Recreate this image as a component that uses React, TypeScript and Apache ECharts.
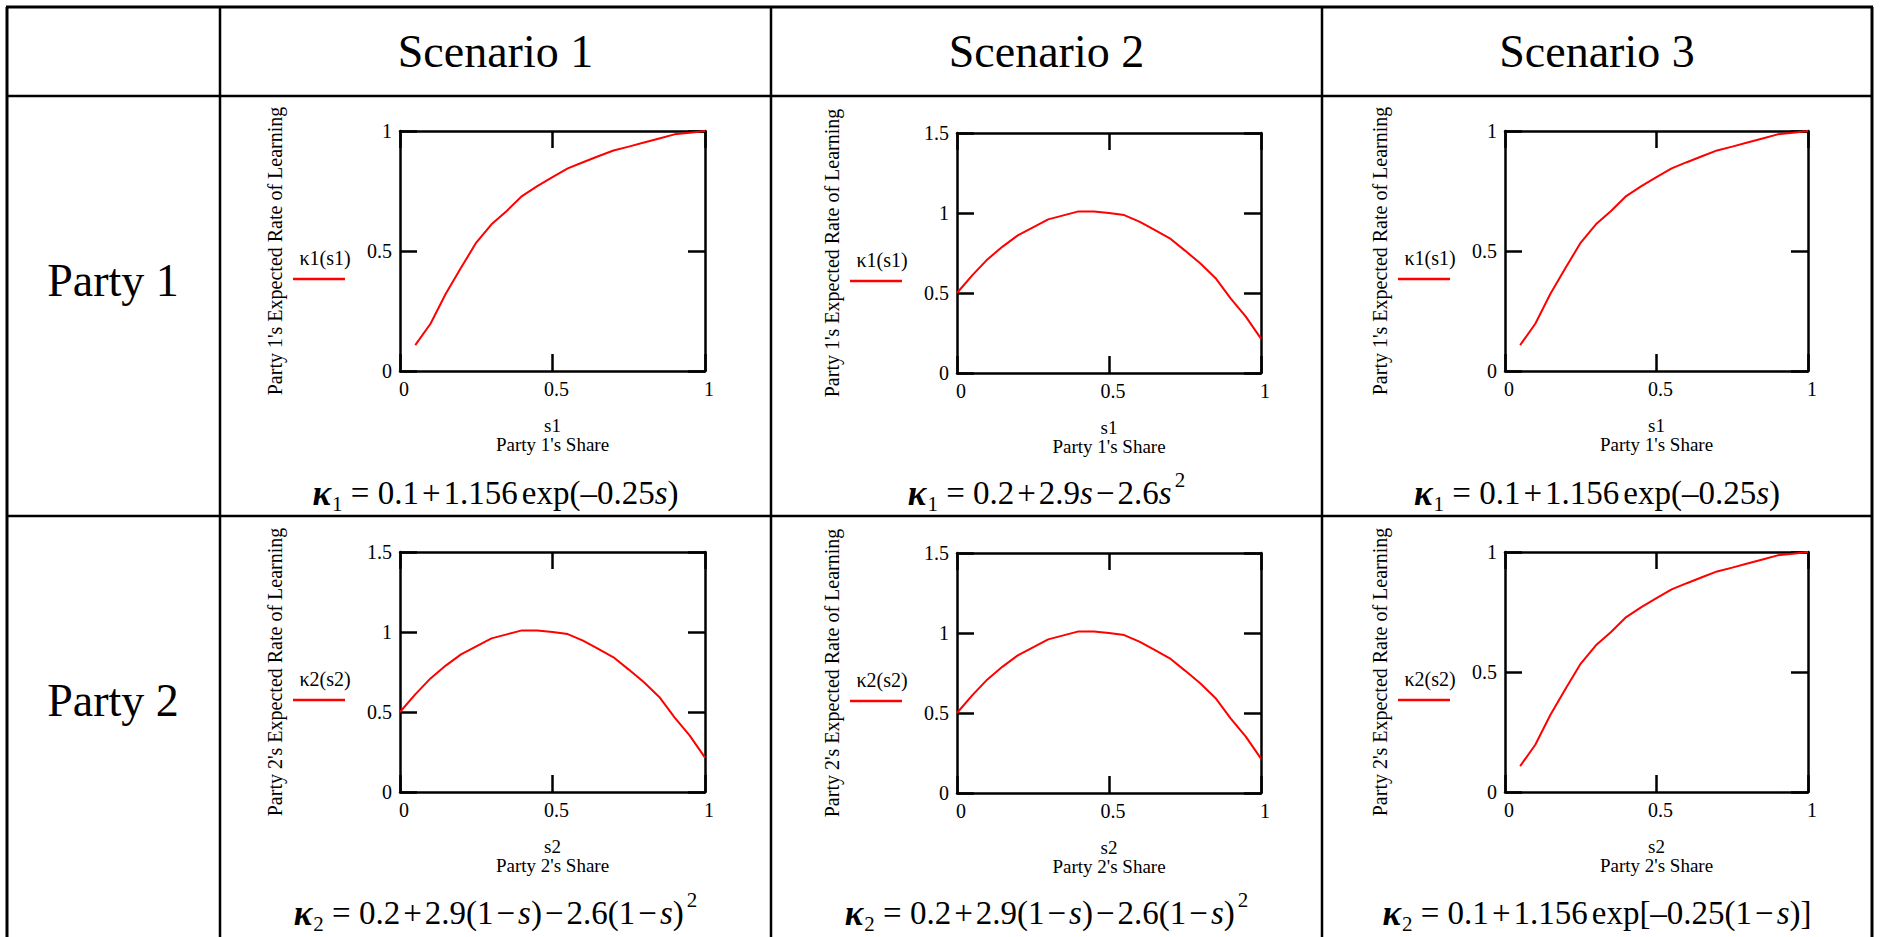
import React, { useEffect, useRef } from "react";
import * as echarts from "echarts";

// ---------- data ----------
const scenarios = ["Scenario 1", "Scenario 2", "Scenario 3"];
const parties = ["Party 1", "Party 2"];

// concave (exp-type) learning curve
const expShare = [0.05, 0.1, 0.15, 0.2, 0.25, 0.3, 0.35, 0.4, 0.45, 0.5, 0.55, 0.6, 0.65, 0.7, 0.75, 0.8, 0.85, 0.9, 0.95, 1.0];
const expRate = [0.108, 0.197, 0.322, 0.43, 0.535, 0.611, 0.667, 0.729, 0.77, 0.808, 0.844, 0.87, 0.895, 0.919, 0.935, 0.952, 0.969, 0.986, 0.993, 1.0];

// inverted-U (quadratic-type) learning curve
const quadShare = [0, 0.05, 0.1, 0.15, 0.2, 0.25, 0.3, 0.35, 0.4, 0.45, 0.5, 0.55, 0.6, 0.65, 0.7, 0.75, 0.8, 0.85, 0.9, 0.95, 1.0];
const quadRate = [0.5, 0.61, 0.71, 0.79, 0.86, 0.91, 0.96, 0.985, 1.01, 1.01, 1.0, 0.987, 0.946, 0.894, 0.842, 0.765, 0.686, 0.594, 0.467, 0.352, 0.215];

const xTicks = { min: 0, max: 1, interval: 0.5 };
const yMaxByPanel = [
  [1, 1.5, 1],
  [1.5, 1.5, 1],
];
const curveByPanel = [
  ["exp", "quad", "exp"],
  ["quad", "quad", "exp"],
];

const yTitles = ["Party 1's Expected Rate of Learning", "Party 2's Expected Rate of Learning"];
const xTitles = ["s1\nParty 1's Share", "s2\nParty 2's Share"];
const legendLabels = ["κ1(s1)", "κ2(s2)"];

// formulas as rich-text strings
const formulas = [
  [
    "{k|κ}{sub|1}{n| = 0.1}{op|+}{n|1.156}{g|exp(–0.25}{i|s}{n|)}",
    "{k|κ}{sub|1}{n| = 0.2}{op|+}{n|2.9}{i|s}{op|−}{n|2.6}{i|s}{sup|2}",
    "{k|κ}{sub|1}{n| = 0.1}{op|+}{n|1.156}{g|exp(–0.25}{i|s}{n|)}",
  ],
  [
    "{k|κ}{sub|2}{n| = 0.2}{op|+}{n|2.9(1}{op|−}{i|s}{n|)}{op|−}{n|2.6(1}{op|−}{i|s}{n|)}{sup|2}",
    "{k|κ}{sub|2}{n| = 0.2}{op|+}{n|2.9(1}{op|−}{i|s}{n|)}{op|−}{n|2.6(1}{op|−}{i|s}{n|)}{sup|2}",
    "{k|κ}{sub|2}{n| = 0.1}{op|+}{n|1.156}{g|exp[–0.25(1}{op|−}{i|s}{n|)]}",
  ],
];

// ---------- layout ----------
const FONT = "Liberation Serif";
const colLines = [220, 771, 1322];
const tableLeft = 7;
const tableRight = 1872;
const tableTop = 7;
const headerBottom = 96;
const rowTops = [96, 516];
const plotLefts = [400, 957, 1505];
const plotWidths = [305, 304, 303];
const plotTops = [
  [131, 133, 131],
  [552, 553, 552],
];
const plotHeight = 240;

function App() {
  const ref = useRef<HTMLDivElement>(null);

  useEffect(() => {
    document.body.style.margin = "0";
    const chart = echarts.init(ref.current!, undefined, { renderer: "svg" });

    const grids: any[] = [];
    const xAxes: any[] = [];
    const yAxes: any[] = [];
    const series: any[] = [];
    const graphics: any[] = [];

    const axisLine = { show: true, onZero: false, lineStyle: { color: "#000", width: 2.5 } };
    const axisTick = { show: true, inside: true, length: 17, lineStyle: { color: "#000", width: 2.5 } };
    const labelStyle = { color: "#000", fontFamily: FONT, fontSize: 20 };
    const FS = 33;
    const base = { fontFamily: FONT, fontSize: FS, fill: "#000", verticalAlign: "middle" };

    let gi = 0;
    for (let r = 0; r < 2; r++) {
      for (let c = 0; c < 3; c++) {
        const left = plotLefts[c];
        const top = plotTops[r][c];
        const width = plotWidths[c];
        grids.push({ left, top, width, height: plotHeight, containLabel: false });

        // bottom x
        xAxes.push({
          type: "value",
          gridIndex: gi,
          position: "bottom",
          min: xTicks.min,
          max: xTicks.max,
          interval: xTicks.interval,
          axisLine,
          axisTick,
          splitLine: { show: false },
          axisLabel: { ...labelStyle, margin: 8, padding: [0, 0, 0, 8] },
          name: xTitles[r],
          nameLocation: "middle",
          nameGap: 45,
          nameTextStyle: { color: "#000", fontFamily: FONT, fontSize: 19, lineHeight: 19 },
        });
        // top x (frame + ticks)
        xAxes.push({
          type: "value",
          gridIndex: gi,
          position: "top",
          min: xTicks.min,
          max: xTicks.max,
          interval: xTicks.interval,
          axisLine,
          axisTick,
          splitLine: { show: false },
          axisLabel: { show: false },
        });
        const ymax = yMaxByPanel[r][c];
        yAxes.push({
          type: "value",
          gridIndex: gi,
          position: "left",
          min: 0,
          max: ymax,
          interval: 0.5,
          axisLine,
          axisTick,
          splitLine: { show: false },
          axisLabel: { ...labelStyle, margin: 8, padding: [10, 0, 0, 0] },
          name: yTitles[r],
          nameLocation: "middle",
          nameGap: 115,
          nameTextStyle: { ...labelStyle },
        });
        yAxes.push({
          type: "value",
          gridIndex: gi,
          position: "right",
          min: 0,
          max: ymax,
          interval: 0.5,
          axisLine,
          axisTick,
          splitLine: { show: false },
          axisLabel: { show: false },
        });

        const isExp = curveByPanel[r][c] === "exp";
        const xs = isExp ? expShare : quadShare;
        const ys = isExp ? expRate : quadRate;
        series.push({
          type: "line",
          name: legendLabels[r],
          xAxisIndex: gi * 2,
          yAxisIndex: gi * 2,
          data: xs.map((x, i) => [x, ys[i]]),
          showSymbol: false,
          symbol: "none",
          lineStyle: { color: "#ff0000", width: 2 },
          z: 1,
        });

        // legend (text above a short red line)
        graphics.push({
          type: "text",
          x: left - 75,
          y: top + 127,
          style: {
            text: legendLabels[r],
            fontFamily: FONT,
            fontSize: 20,
            fill: "#000",
            align: "center",
            verticalAlign: "middle",
          },
        });
        graphics.push({
          type: "line",
          shape: { x1: left - 107, y1: top + 148, x2: left - 55, y2: top + 148 },
          style: { stroke: "#ff0000", lineWidth: 2.5 },
        });

        // formula
        const cellL = colLines[c];
        const cellR = c < 2 ? colLines[c + 1] : tableRight;
        graphics.push({
          type: "text",
          x: (cellL + cellR) / 2,
          y: rowTops[r] + 397,
          style: {
            text: formulas[r][c],
            align: "center",
            verticalAlign: "middle",
            fill: "#000",
            fontFamily: FONT,
            fontSize: FS,
            rich: {
              n: { ...base },
              op: { ...base, padding: [0, 3, 0, 3] },
              g: { ...base, padding: [0, 0, 0, 4] },
              i: { ...base, fontStyle: "italic" },
              k: { ...base, fontSize: 35, fontStyle: "italic", fontWeight: "bold" },
              sub: { ...base, fontSize: 21, padding: [22, 0, 0, 1] },
              sup: { ...base, fontSize: 21, padding: [0, 0, 26, 3] },
            },
          },
        });
        gi++;
      }
    }

    // table lines
    const tl = (x1: number, y1: number, x2: number, y2: number, w: number) => ({
      type: "line",
      shape: { x1, y1, x2, y2 },
      style: { stroke: "#000", lineWidth: w },
      z: 10,
    });
    graphics.push(tl(tableLeft - 1, tableTop, tableRight + 1, tableTop, 3));
    graphics.push(tl(tableLeft, tableTop, tableLeft, 940, 3));
    graphics.push(tl(tableRight, tableTop, tableRight, 940, 3));
    graphics.push(tl(tableLeft, headerBottom, tableRight, headerBottom, 2.5));
    graphics.push(tl(tableLeft, rowTops[1], tableRight, rowTops[1], 2.5));
    colLines.forEach((x) => graphics.push(tl(x, tableTop, x, 940, 2.5)));

    // header texts
    scenarios.forEach((s, c) => {
      const cellL = colLines[c];
      const cellR = c < 2 ? colLines[c + 1] : tableRight;
      graphics.push({
        type: "text",
        x: (cellL + cellR) / 2,
        y: 51,
        style: { text: s, fontFamily: FONT, fontSize: 46, fill: "#000", align: "center", verticalAlign: "middle" },
      });
    });
    parties.forEach((p, r) => {
      graphics.push({
        type: "text",
        x: 113,
        y: rowTops[r] + 184,
        style: { text: p, fontFamily: FONT, fontSize: 46, fill: "#000", align: "center", verticalAlign: "middle" },
      });
    });

    chart.setOption({
      animation: false,
      backgroundColor: "#fff",
      grid: grids,
      xAxis: xAxes,
      yAxis: yAxes,
      series,
      graphic: graphics,
    });

    return () => chart.dispose();
  }, []);

  return (
    <div
      ref={ref}
      style={{ position: "absolute", left: 0, top: 0, width: 1885, height: 937, background: "#fff" }}
    />
  );
}

export default App;
